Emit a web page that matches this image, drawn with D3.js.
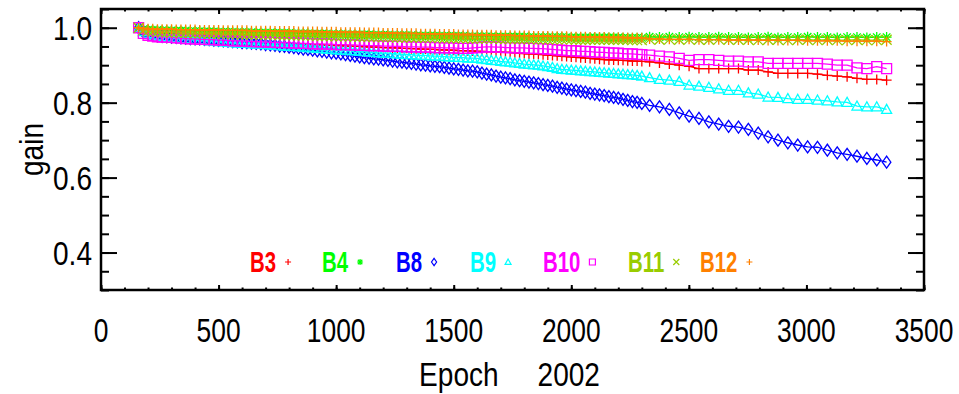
<!DOCTYPE html>
<html><head><meta charset="utf-8">
<script src="https://cdn.jsdelivr.net/npm/d3@7"></script>
<style>body{margin:0;background:#fff}svg{display:block}text{font-family:"Liberation Sans",Arial,sans-serif}</style>
</head><body>
<script>
const epochs = [160,180,200,220,240,260,280,300,320,340,
360,380,400,420,440,460,480,500,520,540,
560,580,600,620,640,660,680,700,720,740,
760,780,800,820,840,860,880,900,920,940,
960,980,1000,1020,1040,1060,1080,1100,1120,1140,
1160,1180,1200,1220,1240,1260,1280,1300,1320,1340,
1360,1380,1400,1420,1440,1460,1480,1500,1520,1540,
1560,1580,1600,1620,1640,1660,1680,1700,1720,1740,
1760,1780,1800,1820,1840,1860,1880,1900,1920,1940,
1960,1980,2000,2020,2040,2060,2080,2100,2120,2140,
2160,2180,2200,2220,2240,2260,2280,2300,
2333,2375,2417,2459,2501,2543,2585,2627,2669,2711,2753,2795,2837,2879,2921,2963,3005,3047,3089,3131,3173,3215,3257,3299,3341];

const B3 = [1.000,0.983,0.978,0.975,0.974,0.973,0.972,0.971,0.970,0.970,
0.969,0.968,0.968,0.967,0.967,0.966,0.966,0.965,0.965,0.964,
0.963,0.963,0.962,0.962,0.961,0.961,0.960,0.960,0.959,0.959,
0.958,0.958,0.957,0.957,0.956,0.956,0.955,0.955,0.954,0.954,
0.953,0.953,0.952,0.952,0.951,0.951,0.950,0.950,0.949,0.949,
0.948,0.948,0.947,0.947,0.946,0.946,0.945,0.945,0.944,0.944,
0.943,0.943,0.942,0.942,0.941,0.941,0.940,0.940,0.939,0.939,
0.938,0.938,0.937,0.937,0.936,0.936,0.935,0.935,0.934,0.934,
0.933,0.932,0.931,0.930,0.930,0.929,0.928,0.927,0.926,0.925,
0.924,0.923,0.922,0.921,0.920,0.919,0.918,0.917,0.916,0.915,
0.914,0.914,0.913,0.913,0.912,0.911,0.911,0.910,
0.909,0.906,0.903,0.900,0.897,0.891,0.891,0.891,0.891,0.891,0.887,0.887,0.882,0.878,0.878,0.878,0.878,0.876,0.873,0.871,0.869,0.865,0.862,0.862,0.860];

const B4 = [1.000,0.996,0.995,0.994,0.994,0.993,0.993,0.993,0.992,0.992,
0.992,0.991,0.991,0.991,0.990,0.990,0.990,0.989,0.989,0.989,
0.989,0.988,0.988,0.988,0.988,0.987,0.987,0.987,0.987,0.986,
0.986,0.986,0.986,0.985,0.985,0.985,0.985,0.984,0.984,0.984,
0.984,0.983,0.983,0.983,0.983,0.982,0.982,0.982,0.982,0.982,
0.981,0.981,0.981,0.981,0.980,0.980,0.980,0.980,0.980,0.979,
0.979,0.979,0.979,0.979,0.978,0.978,0.978,0.978,0.978,0.978,
0.977,0.977,0.977,0.977,0.977,0.977,0.976,0.976,0.976,0.976,
0.976,0.976,0.976,0.975,0.975,0.975,0.975,0.975,0.975,0.975,
0.975,0.975,0.974,0.974,0.974,0.974,0.974,0.974,0.974,0.974,
0.974,0.974,0.974,0.973,0.973,0.973,0.973,0.973,
0.976,0.975,0.976,0.975,0.976,0.975,0.975,0.976,0.975,0.975,0.974,0.975,0.976,0.974,0.975,0.975,0.976,0.975,0.975,0.974,0.975,0.975,0.974,0.975,0.975];

const B8 = [1.000,0.988,0.984,0.981,0.979,0.977,0.976,0.975,0.974,0.973,
0.972,0.971,0.970,0.970,0.969,0.968,0.967,0.966,0.965,0.964,
0.963,0.962,0.960,0.960,0.959,0.958,0.957,0.955,0.954,0.953,
0.951,0.950,0.948,0.947,0.945,0.943,0.942,0.940,0.938,0.937,
0.935,0.933,0.932,0.930,0.928,0.926,0.924,0.922,0.920,0.919,
0.917,0.916,0.914,0.913,0.911,0.909,0.908,0.906,0.905,0.903,
0.901,0.900,0.898,0.897,0.896,0.894,0.892,0.890,0.889,0.887,
0.885,0.884,0.882,0.879,0.876,0.874,0.871,0.868,0.866,0.864,
0.861,0.859,0.857,0.855,0.853,0.851,0.848,0.846,0.844,0.841,
0.839,0.836,0.834,0.832,0.830,0.828,0.825,0.823,0.821,0.819,
0.816,0.814,0.812,0.809,0.806,0.803,0.801,0.798,
0.793,0.789,0.782,0.773,0.764,0.758,0.749,0.743,0.737,0.735,0.729,0.719,0.709,0.700,0.693,0.687,0.682,0.681,0.673,0.666,0.662,0.657,0.651,0.647,0.641];

const B9 = [1.000,0.990,0.985,0.981,0.978,0.976,0.975,0.974,0.972,0.971,
0.970,0.969,0.968,0.967,0.966,0.965,0.964,0.963,0.962,0.961,
0.960,0.959,0.958,0.958,0.957,0.956,0.956,0.955,0.954,0.953,
0.952,0.951,0.950,0.950,0.949,0.948,0.947,0.946,0.945,0.944,
0.943,0.942,0.941,0.940,0.940,0.939,0.938,0.937,0.936,0.935,
0.934,0.933,0.932,0.932,0.931,0.930,0.929,0.928,0.928,0.927,
0.926,0.926,0.925,0.924,0.924,0.923,0.922,0.921,0.921,0.920,
0.919,0.919,0.918,0.916,0.915,0.913,0.912,0.910,0.909,0.908,
0.906,0.905,0.903,0.902,0.901,0.900,0.898,0.896,0.894,0.891,
0.889,0.888,0.887,0.886,0.885,0.884,0.883,0.882,0.881,0.880,
0.879,0.878,0.877,0.876,0.875,0.874,0.873,0.871,
0.867,0.862,0.860,0.857,0.847,0.844,0.841,0.837,0.833,0.833,0.826,0.823,0.815,0.814,0.811,0.809,0.809,0.807,0.805,0.802,0.801,0.791,0.789,0.789,0.782];

const B10 = [1.000,0.985,0.980,0.978,0.976,0.975,0.975,0.974,0.973,0.972,
0.971,0.970,0.970,0.969,0.969,0.968,0.968,0.967,0.967,0.966,
0.965,0.965,0.964,0.964,0.963,0.963,0.962,0.962,0.961,0.961,
0.960,0.960,0.960,0.959,0.959,0.958,0.958,0.957,0.957,0.957,
0.956,0.956,0.955,0.955,0.955,0.954,0.954,0.953,0.953,0.952,
0.952,0.952,0.951,0.951,0.950,0.950,0.950,0.949,0.949,0.949,
0.948,0.948,0.948,0.947,0.947,0.946,0.946,0.946,0.945,0.945,
0.945,0.946,0.947,0.948,0.949,0.949,0.948,0.948,0.947,0.947,
0.946,0.946,0.946,0.945,0.945,0.944,0.944,0.943,0.942,0.941,
0.940,0.939,0.939,0.938,0.937,0.937,0.936,0.935,0.934,0.934,
0.933,0.932,0.932,0.931,0.930,0.930,0.929,0.928,
0.927,0.924,0.922,0.918,0.913,0.915,0.915,0.913,0.911,0.911,0.909,0.909,0.905,0.905,0.905,0.905,0.905,0.905,0.903,0.900,0.900,0.893,0.891,0.896,0.891];

const B11 = [1.000,0.993,0.991,0.990,0.989,0.988,0.988,0.987,0.987,0.986,
0.986,0.986,0.985,0.985,0.985,0.984,0.984,0.984,0.983,0.983,
0.983,0.983,0.982,0.982,0.982,0.982,0.981,0.981,0.981,0.981,
0.980,0.980,0.980,0.980,0.979,0.979,0.979,0.979,0.978,0.978,
0.978,0.978,0.977,0.977,0.977,0.977,0.976,0.976,0.976,0.976,
0.975,0.975,0.975,0.975,0.975,0.974,0.974,0.974,0.974,0.974,
0.973,0.973,0.973,0.973,0.973,0.972,0.972,0.972,0.972,0.972,
0.972,0.971,0.971,0.971,0.971,0.971,0.971,0.970,0.970,0.970,
0.970,0.970,0.970,0.970,0.969,0.969,0.969,0.969,0.969,0.969,
0.969,0.969,0.969,0.968,0.968,0.968,0.968,0.968,0.968,0.968,
0.968,0.968,0.968,0.968,0.968,0.967,0.967,0.967,
0.969,0.968,0.969,0.968,0.969,0.968,0.968,0.969,0.968,0.968,0.968,0.967,0.968,0.968,0.967,0.968,0.968,0.967,0.968,0.967,0.967,0.968,0.967,0.967,0.968];

const B12 = [1.000,0.998,0.997,0.997,0.996,0.996,0.996,0.996,0.995,0.995,
0.995,0.995,0.995,0.994,0.994,0.994,0.994,0.994,0.993,0.993,
0.993,0.993,0.993,0.993,0.992,0.992,0.992,0.992,0.992,0.991,
0.991,0.991,0.991,0.991,0.990,0.990,0.990,0.990,0.990,0.989,
0.989,0.989,0.989,0.988,0.988,0.988,0.988,0.988,0.987,0.987,
0.987,0.987,0.986,0.986,0.986,0.986,0.985,0.985,0.985,0.985,
0.984,0.984,0.984,0.984,0.983,0.983,0.983,0.983,0.982,0.982,
0.982,0.982,0.981,0.981,0.981,0.981,0.980,0.980,0.980,0.980,
0.979,0.979,0.979,0.979,0.978,0.978,0.978,0.978,0.977,0.977,
0.977,0.977,0.976,0.976,0.976,0.976,0.975,0.975,0.975,0.975,
0.974,0.974,0.974,0.974,0.973,0.973,0.973,0.973,
0.970,0.970,0.969,0.969,0.969,0.968,0.968,0.968,0.967,0.967,0.967,0.967,0.966,0.966,0.966,0.966,0.965,0.965,0.965,0.965,0.964,0.964,0.964,0.964,0.963];

const seriesNames = ["B3","B4","B8","B9","B10","B11","B12"];
const seriesColors = ["#ff0000","#00ff00","#0000ff","#00ffff","#ff00ff","#99cc00","#ff8000"];
const seriesSymbols = ["plus","asterisk","diamond","triangle","square","cross","plus"];
const seriesValues = [B3,B4,B8,B9,B10,B11,B12];

const xMajorTicks = [0,500,1000,1500,2000,2500,3000,3500];
const yMajorTicks = [0.4,0.6,0.8,1.0];
const yTickLabels = ["0.4","0.6","0.8","1.0"];
const xTitle = "Epoch     2002";
const yTitle = "gain";

// layout (pixel positions of legend entries)
const legendLayoutX = [250,322,396,470,543,628,700];

const W = 959, H = 394;
const svg = d3.select("body").append("svg").attr("width", W).attr("height", H);
const x = d3.scaleLinear().domain([0, 3500]).range([101, 924]);
const y = d3.scaleLinear().domain([0.3, 1.05]).range([290, 9]);

const xMinor = d3.range(0, 3501, 100);
const yMinor = d3.range(0.3, 1.0501, 0.05).map(v => +v.toFixed(2));

function styleAxis(g) {
  g.select(".domain").remove();
  g.selectAll("line").attr("stroke", "#000").attr("stroke-width", 2);
  g.selectAll("text").remove();
}
svg.append("g").attr("transform", "translate(0,290)").call(d3.axisBottom(x).tickValues(xMinor).tickSize(-2.5)).call(styleAxis);
svg.append("g").attr("transform", "translate(0,290)").call(d3.axisBottom(x).tickValues(xMajorTicks).tickSize(-5)).call(styleAxis);
svg.append("g").attr("transform", "translate(0,9)").call(d3.axisTop(x).tickValues(xMinor).tickSize(-2.5)).call(styleAxis);
svg.append("g").attr("transform", "translate(0,9)").call(d3.axisTop(x).tickValues(xMajorTicks).tickSize(-5)).call(styleAxis);
svg.append("g").attr("transform", "translate(101,0)").call(d3.axisLeft(y).tickValues(yMinor).tickSize(-8)).call(styleAxis);
svg.append("g").attr("transform", "translate(101,0)").call(d3.axisLeft(y).tickValues(yMajorTicks).tickSize(-16)).call(styleAxis);
svg.append("g").attr("transform", "translate(924,0)").call(d3.axisRight(y).tickValues(yMinor).tickSize(-8)).call(styleAxis);
svg.append("g").attr("transform", "translate(924,0)").call(d3.axisRight(y).tickValues(yMajorTicks).tickSize(-16)).call(styleAxis);

svg.append("rect").attr("x", 101).attr("y", 9).attr("width", 823).attr("height", 281)
  .attr("fill", "none").attr("stroke", "#000").attr("stroke-width", 2.5);

function condensedText(parent, tx, ty, str, size, anchor, sx, extra) {
  const g = parent.append("g").attr("transform", `translate(${tx},${ty}) scale(${sx},1)`);
  const t = g.append("text").attr("x", 0).attr("y", 0).attr("font-size", size)
    .attr("text-anchor", anchor).attr("fill", "#000").text(str);
  if (extra) extra(t);
  return t;
}
xMajorTicks.forEach(v => condensedText(svg, x(v), 342, String(v), 33, "middle", 0.8));
yMajorTicks.forEach((v, i) => condensedText(svg, 92, y(v) + 12, yTickLabels[i], 33, "end", 0.85));
condensedText(svg, x(1750) - 3, 386, xTitle, 33, "middle", 0.85, t => t.attr("xml:space", "preserve").style("white-space", "pre"));
svg.append("g").attr("transform", `translate(43,${y(0.675)}) rotate(-90) scale(0.85,1)`)
  .append("text").attr("text-anchor", "middle").attr("font-size", 33).text(yTitle);

function symbolPath(kind, s) {
  switch (kind) {
    case "plus": return `M${-s},0H${s}M0,${-s}V${s}`;
    case "cross": return `M${-s},${-s}L${s},${s}M${-s},${s}L${s},${-s}`;
    case "asterisk": { const d = s * 0.75; return `M${-s},0H${s}M0,${-s}V${s}M${-d},${-d}L${d},${d}M${-d},${d}L${d},${-d}`; }
    case "diamond": return `M0,${-s * 1.2}L${s * 0.85},0L0,${s * 1.2}L${-s * 0.85},0Z`;
    case "triangle": return `M0,${-s}L${s},${s * 0.8}L${-s},${s * 0.8}Z`;
    case "square": return `M${-s},${-s}H${s}V${s}H${-s}Z`;
  }
}

const line = d3.line().x(d => x(d[0])).y(d => y(d[1]));
seriesValues.forEach((vals, i) => {
  const pts = epochs.map((e, j) => [e, vals[j]]);
  const g = svg.append("g");
  g.append("path").attr("d", line(pts)).attr("fill", "none").attr("stroke", seriesColors[i]).attr("stroke-width", 1.3);
  g.selectAll("path.m").data(pts).join("path").attr("class", "m")
    .attr("transform", d => `translate(${x(d[0])},${y(d[1])})`)
    .attr("d", symbolPath(seriesSymbols[i], 5))
    .attr("fill", "none").attr("stroke", seriesColors[i]).attr("stroke-width", 1.3);
});

// legend
const ly = 272;
seriesNames.forEach((name, i) => {
  const lx = legendLayoutX[i];
  const t = condensedText(svg, lx, ly, name, 30, "start", 0.68, t => t.attr("fill", seriesColors[i]).attr("font-weight", "bold"));
  const w = t.node().getComputedTextLength() * 0.68;
  const sx = lx + w + 12;
  svg.append("path").attr("transform", `translate(${sx},${ly - 10})`)
    .attr("d", symbolPath(seriesSymbols[i], 3)).attr("fill", "none")
    .attr("stroke", seriesColors[i]).attr("stroke-width", 1.2);
});
</script>
</body></html>
